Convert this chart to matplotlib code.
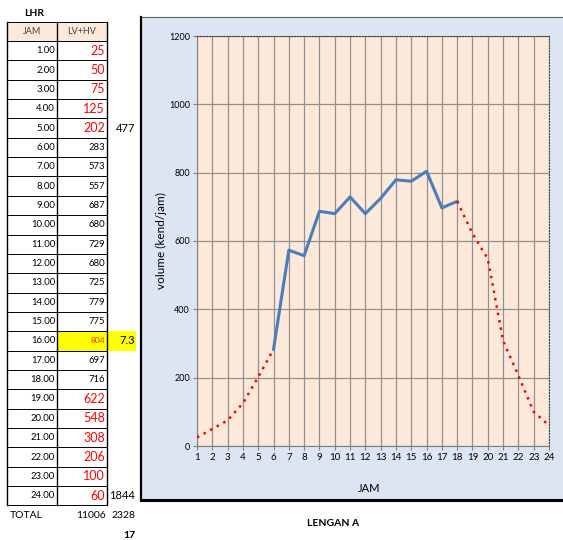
import matplotlib.pyplot as plt
from matplotlib.patches import Rectangle

plt.rcParams['font.family'] = ['Lato', 'DejaVu Sans']

# hourly traffic volume, LV+HV (kend/jam)
hours = list(range(1, 25))
volumes = [25, 50, 75, 125, 202, 283, 573, 557, 687, 680, 729, 680,
           725, 779, 775, 804, 697, 716, 622, 548, 308, 206, 100, 60]
# hours whose counts are estimated (drawn red / dotted)
estimated = [1, 2, 3, 4, 5, 19, 20, 21, 22, 23, 24]
peak_hour = 16
total_label = "11006"
side_notes = {5: "477", 16: "7.3", 24: "1844"}
side_total = "2328"
footer_note = "17"

W, H = 563, 540
fig = plt.figure(figsize=(W / 100, H / 100), dpi=100)
fig.patch.set_facecolor("white")

# overlay in pixel coordinates for table and panel
ov = fig.add_axes([0, 0, 1, 1])
ov.set_xlim(0, W)
ov.set_ylim(H, 0)
ov.axis("off")

# ---------------- chart panel ----------------
ov.add_patch(Rectangle((141, 17), 440, 483, facecolor="#dce6f2",
                       edgecolor="none", zorder=0))
ov.plot([141, 570], [17, 17], color="#606060", lw=0.8, zorder=1)
ov.plot([141, 141], [17, 500], color="black", lw=1.6, zorder=1)
ov.plot([141, 570], [500, 500], color="black", lw=2.2, zorder=1)

# ---------------- table ----------------
x0, xm, x1 = 7, 57, 107
top, hdr_bot, row_h = 22, 41, 19.35
ov.text(24, 13, "LHR", fontsize=7.5, fontweight="bold", va="center", ha="left")
ov.add_patch(Rectangle((x0, top), x1 - x0, hdr_bot - top,
                       facecolor="#fde9d9", edgecolor="none", zorder=1))
ov.text((x0 + xm) / 2, (top + hdr_bot) / 2, "JAM", fontsize=6.5, ha="center",
        va="center", color="#404040")
ov.text((xm + x1) / 2, (top + hdr_bot) / 2, "LV+HV", fontsize=6.5, ha="center",
        va="center", color="#404040")

bot = hdr_bot + row_h * len(hours)
for i, (h, v) in enumerate(zip(hours, volumes)):
    y0 = hdr_bot + i * row_h
    yc = y0 + row_h / 2
    if h == peak_hour:
        ov.add_patch(Rectangle((xm, y0), x1 - xm, row_h, facecolor="#ffff00",
                               edgecolor="none", zorder=1))
        ov.add_patch(Rectangle((x1, y0), 29, row_h, facecolor="#ffff00",
                               edgecolor="none", zorder=1))
    ov.text(xm - 2, yc, f"{h:.2f}", fontsize=6.8, ha="right", va="center")
    if h in estimated:
        ov.text(x1 - 2, yc, str(v), fontsize=9, ha="right", va="center",
                color="red")
    elif h == peak_hour:
        ov.text(x1 - 2, yc, str(v), fontsize=6, ha="right", va="center",
                color="#ff3300")
    else:
        ov.text(x1 - 2, yc, str(v), fontsize=6.8, ha="right", va="center")
    if h in side_notes:
        ov.text(135, yc, side_notes[h], fontsize=8, ha="right", va="center")

for i in range(len(hours) + 2):
    y = top if i == 0 else hdr_bot + (i - 1) * row_h
    ov.plot([x0, x1], [y, y], color="black", lw=0.7, zorder=2)
for x in (x0, xm, x1):
    ov.plot([x, x], [top, bot], color="black", lw=1.0, zorder=2)

ty = bot + 10
ov.text(10, ty, "TOTAL", fontsize=7.5, ha="left", va="center")
ov.text(x1 - 1, ty, total_label, fontsize=7.5, ha="right", va="center")
ov.text(135, ty, side_total, fontsize=7.5, ha="right", va="center")
ov.text(135, 535, footer_note, fontsize=7.5, ha="right", va="center",
        fontweight="bold")

ov.text(333, 524, "LENGAN A", fontsize=7.5, fontweight="bold", ha="center",
        va="center")

# ---------------- line chart ----------------
ax = fig.add_axes([197 / W, 94 / H, 352 / W, 410 / H])
ax.set_facecolor("#fde9d9")
ax.set_xlim(1, 24)
ax.set_ylim(0, 1200)
ax.set_xticks(hours)
ax.set_yticks(range(0, 1201, 200))
ax.grid(True, color="#909090", lw=0.9)
ax.set_axisbelow(True)
ax.tick_params(labelsize=6.5, length=3, color="#808080", pad=2)
ax.tick_params(axis="x", labelsize=7)
for s in ("top", "right"):
    ax.spines[s].set_linestyle(":")
    ax.spines[s].set_color("#404040")
ax.spines["left"].set_color("#808080")
ax.spines["bottom"].set_color("#808080")

vol = dict(zip(hours, volumes))
early = [h for h in hours if h <= 6]
mid = [h for h in hours if 6 <= h <= 18]
late = [h for h in hours if h >= 18]
ax.plot(mid, [vol[h] for h in mid], color="#4a7ebb", lw=2.2, zorder=3)
for seg in (early, late):
    ax.plot(seg, [vol[h] for h in seg], color="red", lw=1.8,
            linestyle=(0, (1, 2)), zorder=3)

ax.set_xlabel("JAM", fontsize=8)
ax.set_ylabel("volume (kend/jam)", fontsize=8.5)
ax.xaxis.set_label_coords((369 - 197) / 352, (446 - 483) / 410)
ax.yaxis.set_label_coords((167 - 197) / 352, 0.5)

fig.savefig("out.png", dpi=100)
